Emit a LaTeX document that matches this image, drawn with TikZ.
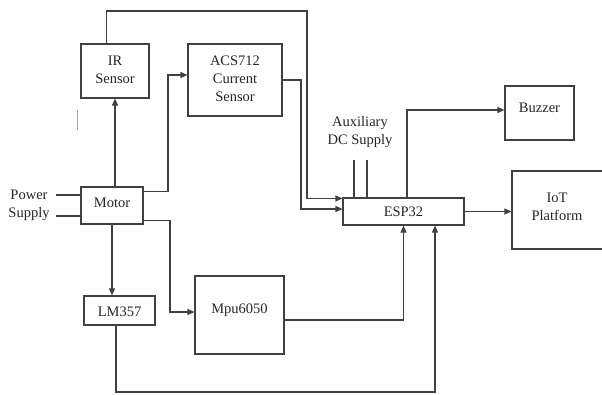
\documentclass[tikz,border=0pt]{standalone}
\usepackage{fontspec}
\setmainfont{Liberation Serif}
\usetikzlibrary{arrows.meta}
\begin{document}
\begin{tikzpicture}[x=1pt,y=-1pt,
  box/.style={draw=black!75,line width=1.1pt,inner sep=0pt},
  txt/.style={font=\fontsize{14.5}{18}\selectfont,align=center,inner sep=0pt,text=black!85},
  conn/.style={draw=black!75,line width=1.1pt},
  arr/.style={conn,-{Triangle[length=7pt,width=6pt]}}]
\useasboundingbox (0,0) rectangle (602,394);
% boxes
\node[box,minimum width=68pt,minimum height=54pt] (ir) at (115,71) {};
\node[box,minimum width=94pt,minimum height=72pt] (acs) at (235,80) {};
\node[box,minimum width=62pt,minimum height=37pt] (motor) at (112,205.5) {};
\node[box,minimum width=71pt,minimum height=29pt] (lm) at (119.5,310.5) {};
\node[box,minimum width=89pt,minimum height=78pt] (mpu) at (239.5,315) {};
\node[box,minimum width=121pt,minimum height=27pt] (esp) at (403.5,211.5) {};
\node[box,minimum width=69pt,minimum height=54pt] (buz) at (539.5,113) {};
\node[box,minimum width=92pt,minimum height=78pt] (iot) at (558,210) {};
% texts
\node[txt] (irt) at (115,70) {IR\\Sensor};
\node[txt] (acst) at (235,79) {ACS712\\Current\\Sensor};
\node[txt] (motort) at (112,203) {Motor};
\node[txt] (lmt) at (119.5,311.5) {LM357};
\node[txt] (mput) at (239.5,310) {Mpu6050};
\node[txt] (espt) at (403.5,212) {ESP32};
\node[txt] (buzt) at (539.5,108) {Buzzer};
\node[txt] (iott) at (557,207) {IoT\\Platform};
\node[txt] (pst) at (29,205) {Power\\Supply};
\node[txt] (auxt) at (360,132) {Auxiliary\\DC Supply};
% free ends
\coordinate (ps1) at (56,195);
\coordinate (ps2) at (56,216);
\coordinate (aux1) at (354,160);
\coordinate (aux2) at (367,160);
\coordinate (ticka) at (77,110);
\coordinate (tickb) at (77,130);
% connectors
\draw[conn] (ps1) -- (motor.west |- ps1);
\draw[conn] (ps2) -- (motor.west |- ps2);
\draw[conn] (aux1) -- (aux1 |- esp.north);
\draw[conn] (aux2) -- (aux2 |- esp.north);
\draw[draw=black!35,line width=1pt] (ticka) -- (tickb);
\draw[arr] ([xshift=26pt]ir.north west) |- (307,11) |- ([yshift=-1pt]esp.north west);
\draw[arr] (motor.north -| ir.south) -- (ir.south);
\draw[arr] ([yshift=-5pt]motor.north east) -| (168,75) -- ([yshift=5pt]acs.west);
\draw[arr] (acs.east) -| (301,209) -- ([yshift=2.5pt]esp.west);
\draw[arr] (motor.south) -- (motor.south |- lm.north);
\draw[arr] ([yshift=4pt]motor.south east) -| (170,312) -- (mpu.west |- 0,312);
\draw[arr] ([yshift=-5pt]mpu.east) -| (esp.south);
\draw[arr] ([xshift=-3.5pt]lm.south) |- (435,392) -- (435,0 |- esp.south);
\draw[arr] (407,0 |- esp.north) |- (buz.west |- 0,110);
\draw[arr] (esp.east) -- (iot.west |- esp.east);
\end{tikzpicture}
\end{document}
